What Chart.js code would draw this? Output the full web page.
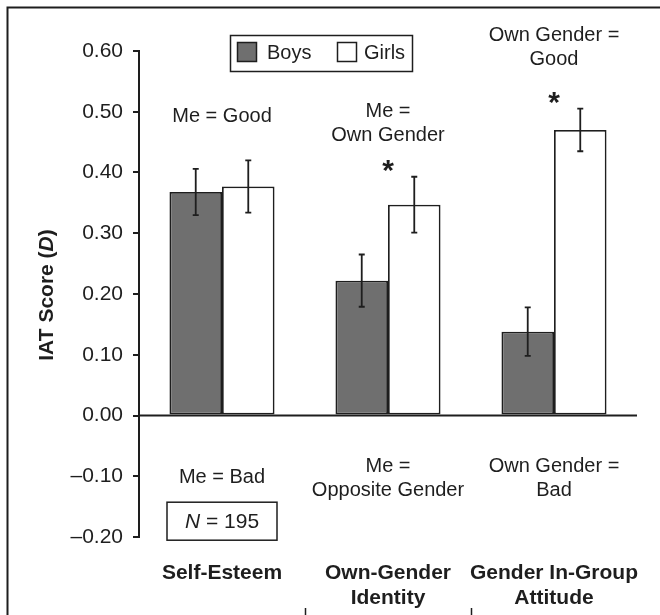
<!DOCTYPE html>
<html>
<head>
<meta charset="utf-8">
<script src="https://cdn.jsdelivr.net/npm/chart.js@4"></script>
<style>
  html, body { margin: 0; padding: 0; background: #fff; }
  #wrap { width: 660px; height: 615px; position: relative; }
</style>
</head>
<body>
<div id="wrap"><canvas id="iatChart" width="660" height="615"></canvas></div>
<script>
// IAT scores by measure, boys vs girls

const categories = [['Self-Esteem'], ['Own-Gender', 'Identity'], ['Gender In-Group', 'Attitude']];
const boysValues = [0.368, 0.222, 0.138];
const girlsValues = [0.377, 0.347, 0.470];
const boysErrors = [0.038, 0.043, 0.040];
const girlsErrors = [0.043, 0.046, 0.035];
const topLabels = [['Me = Good'], ['Me =', 'Own Gender'], ['Own Gender =', 'Good']];
const bottomLabels = [['Me = Bad'], ['Me =', 'Opposite Gender'], ['Own Gender =', 'Bad']];
const significant = [false, true, true];
const yTicks = [-0.2, -0.1, 0, 0.1, 0.2, 0.3, 0.4, 0.5, 0.6];

const INK = '#1e1e1e';
const FONT = '"Liberation Sans", Arial, sans-serif';

// --- Extras: frame, baseline, error bars, annotations, legend ---
const extrasPlugin = {
  id: 'extras',
  afterDatasetsDraw(chart) {
    const ctx = chart.ctx;
    const x = chart.scales.x, y = chart.scales.y;
    const area = chart.chartArea;
    ctx.save();

    // baseline at 0
    ctx.strokeStyle = INK;
    ctx.lineWidth = 2;
    ctx.beginPath();
    ctx.moveTo(area.left, y.getPixelForValue(0));
    ctx.lineTo(area.right, y.getPixelForValue(0));
    ctx.stroke();

    // error bars
    const errs = [boysErrors, girlsErrors];
    chart.data.datasets.forEach((ds, di) => {
      chart.getDatasetMeta(di).data.forEach((bar, i) => {
        const v = ds.data[i];
        const top = y.getPixelForValue(v + errs[di][i]);
        const bot = y.getPixelForValue(v - errs[di][i]);
        ctx.lineWidth = 1.8;
        ctx.beginPath();
        ctx.moveTo(bar.x, top); ctx.lineTo(bar.x, bot);
        ctx.moveTo(bar.x - 3, top); ctx.lineTo(bar.x + 3, top);
        ctx.moveTo(bar.x - 3, bot); ctx.lineTo(bar.x + 3, bot);
        ctx.stroke();
      });
    });

    // significance stars, centred over the group
    ctx.fillStyle = INK;
    ctx.font = 'bold 30px ' + FONT;
    ctx.textAlign = 'center';
    ctx.textBaseline = 'middle';
    significant.forEach((s, i) => {
      if (!s) return;
      const bx = x.getPixelForValue(i);
      const by = y.getPixelForValue(girlsValues[i] + girlsErrors[i]) - 10;
      ctx.fillText('*', bx, by + 5);
    });

    // annotations above / below
    ctx.font = '20px ' + FONT;
    ctx.fillStyle = INK;
    const topY = [0.493, 0.500, 0.625];
    topLabels.forEach((lines, i) => {
      const cx = x.getPixelForValue(i);
      const y0 = y.getPixelForValue(topY[i]);
      lines.forEach((t, k) => ctx.fillText(t, cx, y0 + k * 24));
    });
    const botY = [-0.102, -0.084, -0.084];
    bottomLabels.forEach((lines, i) => {
      const cx = x.getPixelForValue(i);
      const y0 = y.getPixelForValue(botY[i]);
      lines.forEach((t, k) => ctx.fillText(t, cx, y0 + k * 24));
    });

    // N box
    const nx = x.getPixelForValue(0);
    const ny = y.getPixelForValue(-0.174);
    ctx.lineWidth = 1.5;
    ctx.strokeRect(nx - 55, ny - 19, 110, 38);
    ctx.font = 'italic 21px ' + FONT;
    const nW = ctx.measureText('N').width;
    ctx.font = '21px ' + FONT;
    const restW = ctx.measureText(' = 195').width;
    const sx = nx - (nW + restW) / 2;
    ctx.textAlign = 'left';
    ctx.font = 'italic 21px ' + FONT;
    ctx.fillText('N', sx, ny + 1);
    ctx.font = '21px ' + FONT;
    ctx.fillText(' = 195', sx + nW, ny + 1);

    // category labels
    ctx.font = 'bold 21px ' + FONT;
    ctx.textAlign = 'center';
    categories.forEach((lines, i) => {
      const cx = x.getPixelForValue(i);
      lines.forEach((t, k) => ctx.fillText(t, cx, 573 + k * 25));
    });

    // category dividers at bottom
    ctx.lineWidth = 1.5;
    for (let i = 0; i < categories.length - 1; i++) {
      const dx = Math.round((x.getPixelForValue(i) + x.getPixelForValue(i + 1)) / 2) + 0.5;
      ctx.beginPath();
      ctx.moveTo(dx, 608); ctx.lineTo(dx, 620);
      ctx.stroke();
    }

    // legend box
    ctx.lineWidth = 1.5;
    ctx.strokeRect(230.5, 35.5, 182, 36);
    ctx.fillStyle = '#6f6f6f';
    ctx.fillRect(237.5, 42.5, 19, 19);
    ctx.strokeRect(237.5, 42.5, 19, 19);
    ctx.strokeRect(337.5, 42.5, 19, 19);
    ctx.fillStyle = INK;
    ctx.font = '20px ' + FONT;
    ctx.textAlign = 'left';
    ctx.fillText('Boys', 267, 53);
    ctx.fillText('Girls', 364, 53);

    // outer frame (left and top edges)
    ctx.lineWidth = 2;
    ctx.beginPath();
    ctx.moveTo(7.5, 620); ctx.lineTo(7.5, 7.5); ctx.lineTo(660, 7.5);
    ctx.stroke();

    // y title with italic D
    ctx.translate(47, (area.top + area.bottom) / 2 + 1);
    ctx.rotate(-Math.PI / 2);
    const parts = [['bold 21px ', 'IAT Score ('], ['bold italic 21px ', 'D'], ['bold 21px ', ')']];
    let total = 0;
    parts.forEach(p => { ctx.font = p[0] + FONT; total += ctx.measureText(p[1]).width; });
    let px = -total / 2;
    ctx.textAlign = 'left';
    parts.forEach(p => {
      ctx.font = p[0] + FONT;
      ctx.fillText(p[1], px, 0);
      px += ctx.measureText(p[1]).width;
    });

    ctx.restore();
  }
};

new Chart(document.getElementById('iatChart'), {
  type: 'bar',
  data: {
    labels: categories.map(c => c.join(' ')),
    datasets: [
      { label: 'Boys', data: boysValues, backgroundColor: '#6f6f6f', borderColor: INK, borderWidth: 1.8, borderSkipped: false },
      { label: 'Girls', data: girlsValues, backgroundColor: '#ffffff', borderColor: INK, borderWidth: 1.8, borderSkipped: false }
    ]
  },
  options: {
    responsive: false,
    animation: false,
    devicePixelRatio: 1,
    layout: { padding: { left: 0, top: 51, right: 23, bottom: 78 } },
    plugins: { legend: { display: false }, tooltip: { enabled: false } },
    datasets: { bar: { barPercentage: 1, categoryPercentage: 0.633 } },
    scales: {
      x: { display: false },
      y: {
        min: -0.2, max: 0.6,
        afterFit: s => { s.width = 139; },
        afterBuildTicks: s => { s.ticks = yTicks.map(v => ({ value: v })); },
        border: { display: true, color: INK, width: 2 },
        grid: { drawOnChartArea: false, drawTicks: true, tickLength: 6, color: INK, lineWidth: 2 },
        ticks: {
          color: INK,
          padding: 10,
          font: { family: FONT, size: 21 },
          callback: v => (v < 0 ? '\u2013' : '') + Math.abs(v).toFixed(2)
        }
      }
    }
  },
  plugins: [extrasPlugin]
});
</script>
</body>
</html>
